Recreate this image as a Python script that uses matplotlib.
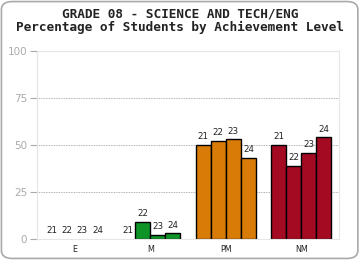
import numpy as np
import matplotlib.pyplot as plt
from matplotlib.patches import FancyBboxPatch

levels = ["E", "M", "PM", "NM"]
years = ["21", "22", "23", "24"]
values = {
    "E": [0, 0, 0, 0],
    "M": [0, 9, 2, 3],
    "PM": [50, 52, 53, 43],
    "NM": [50, 39, 46, 54],
}
colors = {"E": "#ffffff", "M": "#0e9426", "PM": "#d97c07", "NM": "#a40a22"}
yticks = [0, 25, 50, 75, 100]

fig = plt.figure(figsize=(3.6, 2.6), dpi=100)
fig.patches.append(FancyBboxPatch((0.004, 0.006), 0.99, 0.988,
                                  boxstyle="round,pad=0,rounding_size=0.03",
                                  transform=fig.transFigure, fill=False,
                                  edgecolor="#aaaaaa", linewidth=1.2))
ax = fig.add_axes([37 / 360, 21 / 260, 302 / 360, 188 / 260])

fig.text(0.5, 0.948, "GRADE 08 - SCIENCE AND TECH/ENG", ha="center", va="center",
         family="DejaVu Sans Mono", weight="bold", fontsize=9.2, color="#222222")
fig.text(0.5, 0.893, "Percentage of Students by Achievement Level", ha="center",
         va="center", family="DejaVu Sans Mono", weight="bold", fontsize=9.2,
         color="#222222")

bw = 0.2
for i, lvl in enumerate(levels):
    for j, yr in enumerate(years):
        x = i + (j - 1.5) * bw
        v = values[lvl][j]
        if v > 0:
            ax.bar(x, v, width=bw, color=colors[lvl], edgecolor="black", linewidth=1.0)
        ax.text(x, v + 2, yr, ha="center", va="bottom", fontsize=6.3, color="#222222")

ax.set_xlim(-0.5, 3.5)
ax.set_ylim(0, 100)
ax.set_xticks(range(len(levels)))
ax.set_xticklabels(levels, fontsize=5.8, color="#222222")
ax.tick_params(axis="x", length=0, pad=4)
ax.set_yticks(yticks)
ax.set_yticklabels([str(t) for t in yticks], fontsize=7.5, color="#aaaaaa")
ax.tick_params(axis="y", length=5, color="#aaaaaa", pad=2)
for t in yticks[1:-1]:
    ax.axhline(t, color="#999999", linestyle=(0, (1, 1)), linewidth=0.6, zorder=0)
for s in ax.spines.values():
    s.set_color("#e6e6e6")
    s.set_linewidth(0.8)

fig.savefig("out.png", dpi=100)
